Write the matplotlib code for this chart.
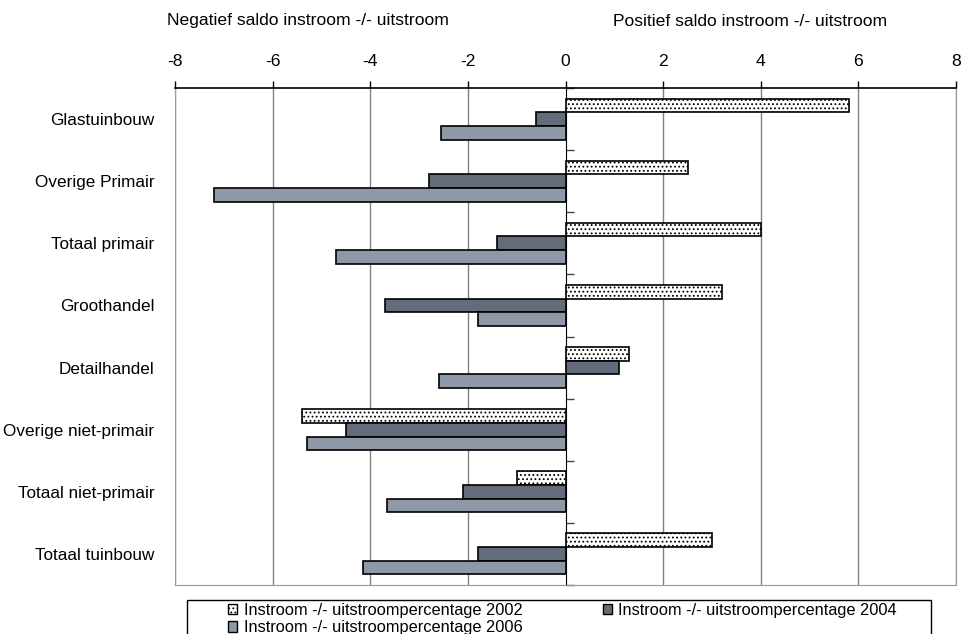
import numpy as np
import matplotlib
matplotlib.use("Agg")
from matplotlib import pyplot as plt
from matplotlib.patches import Rectangle, Patch

plt.rcParams['font.family'] = ['Liberation Sans', 'DejaVu Sans']
plt.rcParams['hatch.linewidth'] = 0.8
plt.rcParams['hatch.color'] = '#333333'

categories = ['Glastuinbouw', 'Overige Primair', 'Totaal primair', 'Groothandel',
              'Detailhandel', 'Overige niet-primair', 'Totaal niet-primair', 'Totaal tuinbouw']
saldo_2002 = [5.8, 2.5, 4.0, 3.2, 1.3, -5.4, -1.0, 3.0]
saldo_2004 = [-0.6, -2.8, -1.4, -3.7, 1.1, -4.5, -2.1, -1.8]
saldo_2006 = [-2.55, -7.2, -4.7, -1.8, -2.6, -5.3, -3.65, -4.15]
labels = ['Instroom -/- uitstroompercentage 2002',
          'Instroom -/- uitstroompercentage 2004',
          'Instroom -/- uitstroompercentage 2006']
xticks = [-8, -6, -4, -2, 0, 2, 4, 6, 8]

c2004 = '#646c7c'
c2006 = '#8e98a7'

fig = plt.figure(figsize=(9.64, 6.34), dpi=100)
ax = fig.add_axes([175/964, 1-585/634, (956-175)/964, (585-88)/634])

y = np.arange(len(categories))
h = 0.22
ax.barh(y - h, saldo_2002, height=h, color='white', edgecolor='black', linewidth=1.2,
        hatch='....', zorder=3)
ax.barh(y, saldo_2004, height=h, color=c2004, edgecolor='black', linewidth=1.2, zorder=3)
ax.barh(y + h, saldo_2006, height=h, color=c2006, edgecolor='black', linewidth=1.2, zorder=3)

ax.set_xlim(-8, 8)
ax.set_ylim(len(categories) - 0.5, -0.5)
ax.set_xticks(xticks)
ax.set_xticklabels([str(t) for t in xticks])
ax.xaxis.tick_top()
ax.tick_params(axis='x', direction='out', length=5, width=1, pad=9, labelsize=12.6, colors='black')
for t in xticks:
    if t != 0:
        ax.axvline(t, color='#808080', linewidth=1, zorder=1)

ax.set_yticks(y)
ax.set_yticklabels(categories)
ax.tick_params(axis='y', length=0, pad=15, labelsize=12.3)

for s in ['left', 'right', 'bottom']:
    ax.spines[s].set_color('#999999')
ax.spines['top'].set_color('black')
ax.spines['top'].set_linewidth(1.2)

# zero axis with category separators
sec = ax.secondary_yaxis(0.5)
sec.set_yticks(np.arange(len(categories) + 1) - 0.5)
sec.set_yticklabels([])
sec.tick_params(axis='y', direction='out', length=6, width=1, colors='#444444')
sec.spines['left'].set_color('black')
sec.spines['left'].set_linewidth(1.5)
sec.spines['left'].set_zorder(5)

fig.text(308/964, 1-21/634, 'Negatief saldo instroom -/- uitstroom', ha='center', va='center', fontsize=12.6)
fig.text(750/964, 1-21/634, 'Positief saldo instroom -/- uitstroom', ha='center', va='center', fontsize=12.6)

# legend box
fig.patches.append(Rectangle((187/964, -0.05), (931-187)/964, 0.05 + 1-600/634,
                             transform=fig.transFigure, fill=False, edgecolor='black', linewidth=1))
handles = [Patch(facecolor='white', edgecolor='black', hatch='....'),
           Patch(facecolor=c2006, edgecolor='black'),
           Patch(facecolor=c2004, edgecolor='black')]
leg = fig.legend(handles, [labels[0], labels[2], labels[1]], ncol=2, frameon=False,
                 loc='upper left', bbox_to_anchor=(228/964, 1-603/634), fontsize=11.8,
                 handlelength=0.55, handleheight=0.6, handletextpad=0.4,
                 labelspacing=0.15, columnspacing=4.9, borderpad=0, borderaxespad=0)

fig.savefig('out.png', dpi=100)
